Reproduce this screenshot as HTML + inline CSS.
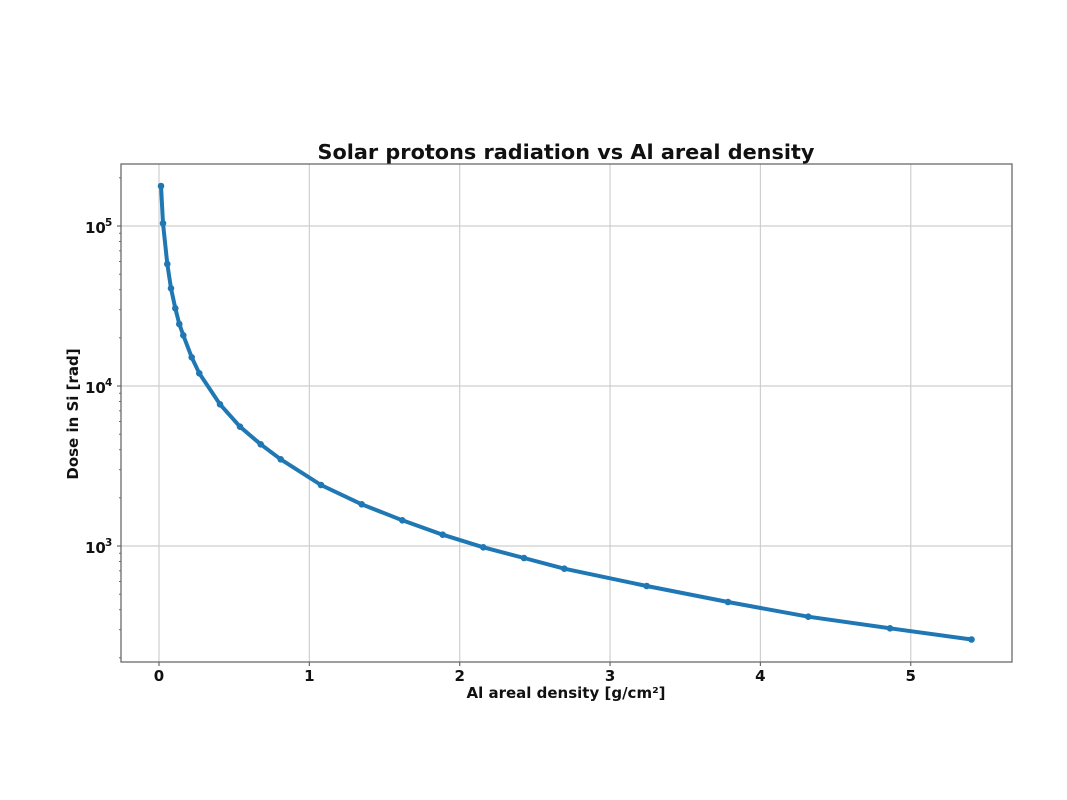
<!DOCTYPE html>
<html>
<head>
<meta charset="utf-8">
<style>
html,body{margin:0;padding:0;background:#fff;}
svg{display:block;}
text{font-family:"DejaVu Sans","Liberation Sans",sans-serif;font-weight:bold;fill:#111;}
</style>
</head>
<body>
<svg width="1067" height="800" viewBox="0 0 1067 800" xmlns="http://www.w3.org/2000/svg">
<rect x="0" y="0" width="1067" height="800" fill="#fff"/>
<!-- grid -->
<g stroke="#cfcfcf" stroke-width="1.2">
<line x1="159" y1="164" x2="159" y2="662"/>
<line x1="309.35" y1="164" x2="309.35" y2="662"/>
<line x1="459.7" y1="164" x2="459.7" y2="662"/>
<line x1="610.05" y1="164" x2="610.05" y2="662"/>
<line x1="760.4" y1="164" x2="760.4" y2="662"/>
<line x1="910.75" y1="164" x2="910.75" y2="662"/>
<line x1="121" y1="226" x2="1012" y2="226"/>
<line x1="121" y1="386" x2="1012" y2="386"/>
<line x1="121" y1="546" x2="1012" y2="546"/>
</g>
<!-- spines -->
<rect x="121" y="164" width="891" height="498" fill="none" stroke="#6a6a6a" stroke-width="1.3"/>
<!-- x ticks -->
<g stroke="#6a6a6a" stroke-width="1.2">
<line x1="159" y1="662" x2="159" y2="666"/>
<line x1="309.35" y1="662" x2="309.35" y2="666"/>
<line x1="459.7" y1="662" x2="459.7" y2="666"/>
<line x1="610.05" y1="662" x2="610.05" y2="666"/>
<line x1="760.4" y1="662" x2="760.4" y2="666"/>
<line x1="910.75" y1="662" x2="910.75" y2="666"/>
<!-- y major -->
<line x1="117" y1="226" x2="121" y2="226"/>
<line x1="117" y1="386" x2="121" y2="386"/>
<line x1="117" y1="546" x2="121" y2="546"/>
</g>
<g stroke="#6a6a6a" stroke-width="1">
<!-- y minor: decade 2 -->
<line x1="119" y1="657.8" x2="121" y2="657.8"/>
<line x1="119" y1="629.7" x2="121" y2="629.7"/>
<line x1="119" y1="609.7" x2="121" y2="609.7"/>
<line x1="119" y1="594.2" x2="121" y2="594.2"/>
<line x1="119" y1="581.5" x2="121" y2="581.5"/>
<line x1="119" y1="570.8" x2="121" y2="570.8"/>
<line x1="119" y1="561.5" x2="121" y2="561.5"/>
<line x1="119" y1="553.3" x2="121" y2="553.3"/>
<!-- decade 3 -->
<line x1="119" y1="497.8" x2="121" y2="497.8"/>
<line x1="119" y1="469.7" x2="121" y2="469.7"/>
<line x1="119" y1="449.7" x2="121" y2="449.7"/>
<line x1="119" y1="434.2" x2="121" y2="434.2"/>
<line x1="119" y1="421.5" x2="121" y2="421.5"/>
<line x1="119" y1="410.8" x2="121" y2="410.8"/>
<line x1="119" y1="401.5" x2="121" y2="401.5"/>
<line x1="119" y1="393.3" x2="121" y2="393.3"/>
<!-- decade 4 -->
<line x1="119" y1="337.8" x2="121" y2="337.8"/>
<line x1="119" y1="309.7" x2="121" y2="309.7"/>
<line x1="119" y1="289.7" x2="121" y2="289.7"/>
<line x1="119" y1="274.2" x2="121" y2="274.2"/>
<line x1="119" y1="261.5" x2="121" y2="261.5"/>
<line x1="119" y1="250.8" x2="121" y2="250.8"/>
<line x1="119" y1="241.5" x2="121" y2="241.5"/>
<line x1="119" y1="233.3" x2="121" y2="233.3"/>
<!-- decade 5 -->
<line x1="119" y1="177.8" x2="121" y2="177.8"/>
</g>
<!-- x tick labels -->
<g font-size="15" text-anchor="middle">
<text x="159" y="681">0</text>
<text x="309.35" y="681">1</text>
<text x="459.7" y="681">2</text>
<text x="610.05" y="681">3</text>
<text x="760.4" y="681">4</text>
<text x="910.75" y="681">5</text>
</g>
<!-- y tick labels -->
<g font-size="15">
<text x="85" y="233">10</text><text x="105" y="226" font-size="10.5">5</text>
<text x="85" y="393">10</text><text x="105" y="386" font-size="10.5">4</text>
<text x="85" y="553">10</text><text x="105" y="546" font-size="10.5">3</text>
</g>
<!-- axis labels -->
<text x="566" y="698" font-size="15" text-anchor="middle">Al areal density [g/cm²]</text>
<text transform="translate(78,414) rotate(-90)" font-size="15" text-anchor="middle">Dose in Si [rad]</text>
<!-- title -->
<text x="566" y="159" font-size="20.8" text-anchor="middle">Solar protons radiation vs Al areal density</text>
<!-- series -->
<polyline fill="none" stroke="#1f77b4" stroke-width="4" stroke-linejoin="round" stroke-linecap="round"
points="161,186 163,223.3 167.3,264 171,288.3 175.3,308.3 179.3,324 183.3,335.3 191.7,357.3 199.3,373.3 220,404.3 240,426.7 260.7,444.3 280.7,459.3 321,485 361.7,504.3 402.3,520.3 442.7,534.7 483.3,547.3 524,558 564.3,568.7 646.7,586 728,602 808.3,616.7 890,628.3 971.5,639.5"/>
<g fill="#1f77b4">
<circle cx="161" cy="186" r="3.3"/>
<circle cx="163" cy="223.3" r="3.3"/>
<circle cx="167.3" cy="264" r="3.3"/>
<circle cx="171" cy="288.3" r="3.3"/>
<circle cx="175.3" cy="308.3" r="3.3"/>
<circle cx="179.3" cy="324" r="3.3"/>
<circle cx="183.3" cy="335.3" r="3.3"/>
<circle cx="191.7" cy="357.3" r="3.3"/>
<circle cx="199.3" cy="373.3" r="3.3"/>
<circle cx="220" cy="404.3" r="3.3"/>
<circle cx="240" cy="426.7" r="3.3"/>
<circle cx="260.7" cy="444.3" r="3.3"/>
<circle cx="280.7" cy="459.3" r="3.3"/>
<circle cx="321" cy="485" r="3.3"/>
<circle cx="361.7" cy="504.3" r="3.3"/>
<circle cx="402.3" cy="520.3" r="3.3"/>
<circle cx="442.7" cy="534.7" r="3.3"/>
<circle cx="483.3" cy="547.3" r="3.3"/>
<circle cx="524" cy="558" r="3.3"/>
<circle cx="564.3" cy="568.7" r="3.3"/>
<circle cx="646.7" cy="586" r="3.3"/>
<circle cx="728" cy="602" r="3.3"/>
<circle cx="808.3" cy="616.7" r="3.3"/>
<circle cx="890" cy="628.3" r="3.3"/>
<circle cx="971.5" cy="639.5" r="3.3"/>
</g>
</svg>
</body>
</html>
